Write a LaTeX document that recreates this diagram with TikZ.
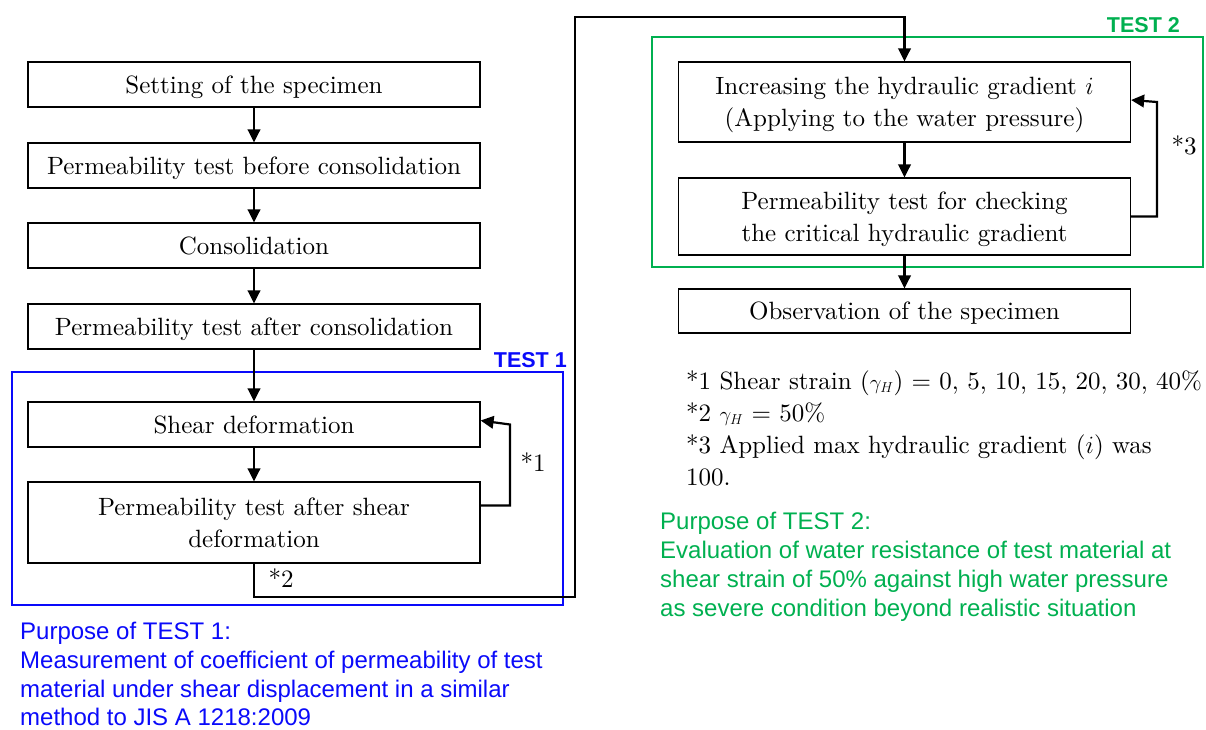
\documentclass[tikz,border=0pt]{standalone}
\usepackage{fontspec}
\setmainfont{lmroman10-regular.otf}[ItalicFont=lmroman10-italic.otf, BoldFont=lmroman10-bold.otf]
\newfontfamily\arial{Liberation Sans}
\usetikzlibrary{arrows.meta}
\definecolor{tblue}{RGB}{10,10,250}
\definecolor{tgreen}{RGB}{0,176,80}
\newcommand{\gH}{{\fontsize{22}{32}\selectfont$\gamma_H$}}
\begin{document}
\begin{tikzpicture}[x=1pt,y=-1pt,
  stepbox/.style={draw, line width=1.2pt, minimum width=452pt, text width=444pt,
    align=center, inner sep=0pt, font=\fontsize{25}{32}\selectfont},
  oneline/.style={stepbox, text depth=0pt},
  lowered/.style={stepbox, execute at begin node={\rule{0pt}{24pt}}},
  flow/.style={line width=2.2pt, -{Triangle[length=13pt,width=12.5pt]}},
  frame1/.style={draw=tblue, line width=2.4pt},
  frame2/.style={draw=tgreen, line width=2.4pt},
  tag/.style={font=\arial\bfseries\fontsize{21.5}{24}\selectfont, inner sep=0pt, anchor=base east},
  starlabel/.style={font=\fontsize{25}{32}\selectfont, inner sep=0pt},
  note/.style={font=\fontsize{25}{32}\selectfont, inner sep=0pt, anchor=base west},
  purpose/.style={font=\arial\fontsize{24}{29}\selectfont, inner sep=0pt, anchor=base west}]
\useasboundingbox (0,0) rectangle (1206,729);

% test frames
\draw[frame1] (12,372) rectangle (563,605);
\draw[frame2] (652,37) rectangle (1203,267);
\node[tag, text=tblue] (tag1) at (567,367) {TEST 1};
\node[tag, text=tgreen] (tag2) at (1180,32) {TEST 2};

% left column
\node[oneline, minimum height=45pt] (b1) at (254,84.5) {Setting of the specimen};
\node[oneline, minimum height=45pt] (b2) at (254,165.5) {Permeability test before consolidation};
\node[oneline, minimum height=45pt] (b3) at (254,245.5) {Consolidation};
\node[oneline, minimum height=45pt] (b4) at (254,326.5) {Permeability test after consolidation};
\node[oneline, minimum height=45pt] (b5) at (254,424.5) {Shear deformation};
\node[stepbox, minimum height=81pt] (b6) at (254,522.5) {Permeability test after shear\\deformation};

% right column
\node[lowered, minimum height=80pt] (b7) at (904.5,102) {Increasing the hydraulic gradient $i$\\(Applying to the water pressure)};
\node[lowered, minimum height=77pt] (b8) at (904.5,216.5) {Permeability test for checking\\the critical hydraulic gradient};
\node[oneline, minimum height=44pt] (b9) at (904.5,311) {Observation of the specimen};

% main flow
\draw[flow] (b1) -- (b2);
\draw[flow] (b2) -- (b3);
\draw[flow] (b3) -- (b4);
\draw[flow] (b4) -- (b5);
\draw[flow] (b5) -- (b6);
\draw[flow] (b7) -- (b8);
\draw[flow] (b8) -- (b9);

% hand-over from TEST 1 to TEST 2
\coordinate (low) at (575,597);
\coordinate (high) at (575,17);
\draw[flow] (b6.south) |- (low) -- (high) -| (b7.north);

% repeat loops
\coordinate (r1) at (510,0);
\draw[flow] ([yshift=17pt]b6.east) -| (r1 |- b5.east) -- ([yshift=4pt]b5.east);
\coordinate (r2) at (1157,0);
\draw[flow] (b8.east) -| (r2 |- b7.east) -- ([yshift=2pt]b7.east);

\node[starlabel] (m1) at (533,462) {*1};
\node[starlabel] (m2) at (281,578) {*2};
\node[starlabel] (m3) at (1184,145) {*3};

% footnotes
\node[note] (n1) at (686,389) {*1 Shear strain (\gH) = 0, 5, 10, 15, 20, 30, 40\%};
\node[note] (n2) at (686,421) {*2 \gH\ = 50\%};
\node[note] (n3) at (686,453) {*3 Applied max hydraulic gradient ($i$) was};
\node[note] (n4) at (686,485) {100.};

% purposes
\node[purpose, text=tblue] (p1) at (20,639) {Purpose of TEST 1:};
\node[purpose, text=tblue] (p2) at (20,668) {Measurement of coefficient of permeability of test};
\node[purpose, text=tblue] (p3) at (20,697) {material under shear displacement in a similar};
\node[purpose, text=tblue] (p4) at (20,725) {method to JIS A 1218:2009};
\node[purpose, text=tgreen] (q1) at (660,529) {Purpose of TEST 2:};
\node[purpose, text=tgreen] (q2) at (660,558) {Evaluation of water resistance of test material at};
\node[purpose, text=tgreen] (q3) at (660,587) {shear strain of 50\% against high water pressure};
\node[purpose, text=tgreen] (q4) at (660,616) {as severe condition beyond realistic situation};
\end{tikzpicture}
\end{document}
